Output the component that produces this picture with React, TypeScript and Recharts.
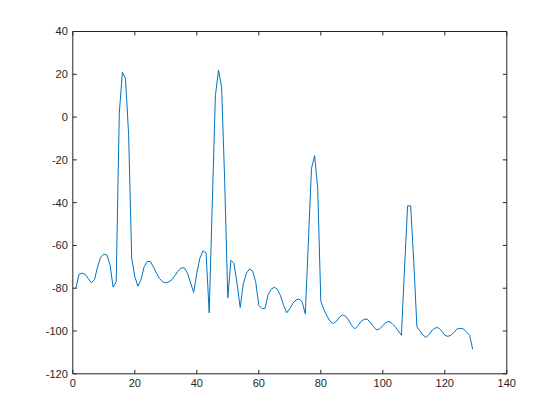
import React from 'react';
import { LineChart, Line, XAxis, YAxis } from 'recharts';

// magnitude (dB) per bin, bins 1..129
const magnitude = [
  -80, -73.5, -73, -73.5, -75.5, -77.5, -76, -70, -65.5, -64,
  -64.5, -69, -79.5, -77, 2, 21, 18, -8, -66, -74.5,
  -79, -76, -70, -67.5, -67.5, -70, -73, -75.5, -77, -77.5,
  -77, -76, -74, -72, -70.5, -70.5, -73, -77.5, -82, -73,
  -66, -62.5, -63.5, -91.5, -40, 10, 22, 14, -30, -84.5,
  -67, -68.5, -78, -89, -78, -73, -71, -72, -77, -88,
  -89.5, -89.5, -83, -80.5, -79.5, -80.5, -83.5, -88, -91.5, -89.5,
  -87, -85.5, -85, -86.5, -92, -58, -24, -18, -33, -86,
  -90, -93, -95.5, -96.5, -95.5, -93.5, -92.5, -93, -95, -97.5,
  -99, -97.5, -95.5, -94.5, -94.5, -96, -98, -99.5, -99, -97.5,
  -96, -95.5, -96.5, -98, -100, -102, -71, -41.5, -41.5, -68,
  -98, -100, -102, -103, -101.5, -99.5, -98.5, -98.5, -100, -102,
  -102.5, -102, -100.5, -99, -98.8, -99, -100.5, -102, -108.5,
];

const xTicks = [0, 20, 40, 60, 80, 100, 120, 140];
const yTicks = [-120, -100, -80, -60, -40, -20, 0, 20, 40];

const data = magnitude.map((v, i) => ({ bin: i + 1, mag: v }));

const axisColor = '#262626';
const tickFont = { fontSize: 11, fill: axisColor, fontFamily: 'Liberation Sans, Arial, sans-serif' };
const blank = () => '';

export default function App() {
  return (
    <div style={{ position: 'absolute', left: 0, top: 0, width: 560, height: 420, background: '#fff' }}>
      <LineChart
        width={560}
        height={420}
        data={data}
        margin={{ top: 30.5, right: 52.2, bottom: 0, left: 0 }}
      >
        <XAxis
          dataKey="bin"
          type="number"
          domain={[0, 140]}
          ticks={xTicks}
          height={46.2}
          tick={tickFont}
          tickSize={-4}
          tickMargin={9}
          stroke={axisColor}
          allowDataOverflow
        />
        <XAxis
          xAxisId="top"
          orientation="top"
          dataKey="bin"
          type="number"
          domain={[0, 140]}
          ticks={xTicks}
          height={1}
          tickSize={-4}
          tickFormatter={blank}
          stroke={axisColor}
          allowDataOverflow
        />
        <YAxis
          type="number"
          domain={[-120, 40]}
          ticks={yTicks}
          width={72.8}
          tick={tickFont}
          tickSize={-4}
          tickMargin={9}
          stroke={axisColor}
          allowDataOverflow
        />
        <YAxis
          yAxisId="right"
          orientation="right"
          type="number"
          domain={[-120, 40]}
          ticks={yTicks}
          width={1}
          tickSize={-4}
          tickFormatter={blank}
          stroke={axisColor}
          allowDataOverflow
        />
        {/* invisible copy so the top and right axes get drawn (box) */}
        <Line
          xAxisId="top"
          yAxisId="right"
          type="linear"
          dataKey="mag"
          stroke="none"
          dot={false}
          legendType="none"
          isAnimationActive={false}
        />
        <Line
          type="linear"
          dataKey="mag"
          stroke="#0072BD"
          strokeWidth={1}
          dot={false}
          isAnimationActive={false}
        />
      </LineChart>
    </div>
  );
}
